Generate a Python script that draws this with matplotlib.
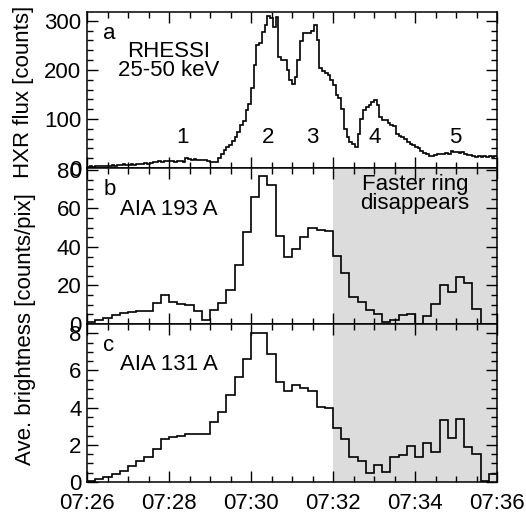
import numpy as np
import matplotlib.pyplot as plt

plt.rcParams['font.family'] = ['Liberation Sans', 'DejaVu Sans']
plt.rcParams['font.size'] = 16

# time axis in minutes after 07:26
hxr_bin = 4 / 60.0
hxr_counts = [3, 4, 3, 5, 4, 4, 5, 4,
              5, 6, 5, 7, 6, 8, 7,
              7, 8, 7, 9, 8, 9, 10, 9,
              11, 12, 13, 14, 13, 15, 14,
              15, 14, 13, 14, 15, 13,
              20, 18, 17, 18, 17, 16, 17, 16,
              14, 13, 12, 12,
              20, 28, 37, 43, 47, 55, 64, 74, 88, 95, 118, 130,
              163, 210, 250, 255, 278, 292, 309, 305, 288, 308,
              227, 220, 220, 200, 180, 172, 186, 220, 258, 275,
              276, 276, 280, 292, 261, 204, 197, 194, 190, 180,
              169, 149, 143, 120, 80, 64, 52, 48, 43, 70,
              100, 118, 125, 128, 135, 139, 128, 104, 98, 97,
              92, 88, 86, 70, 65, 63, 60, 54, 48, 46,
              42, 40, 34, 31, 28, 25, 24, 27, 28, 29,
              28, 30, 29, 35, 33, 32, 30, 32, 29, 26,
              27, 24, 23, 24, 23, 24, 22, 24, 23, 25]

aia_bin = 12 / 60.0
aia193 = [1, 2, 3.3, 4.7, 5.9, 6.4, 6.8, 6.8, 11, 14.9,
          11.6, 10.6, 9.7, 6.8, 1.9, 7.1, 11, 17.7, 30.5, 48,
          66, 77, 72, 45.7, 34.8, 38.8, 45.2, 49.7, 48.8, 48.3,
          35.3, 26.3, 14, 11.6, 7.3, 5, 1.2, 2.1, 4.7, 5.4,
          0, 4, 10.6, 20.1, 16.8, 24.6, 21.1, 7.6, 0.2, 0]
aia131 = [0.05, 0.15, 0.29, 0.41, 0.61, 0.88, 1.12, 1.32, 1.77, 2.34,
          2.41, 2.47, 2.58, 2.59, 2.56, 3.23, 3.77, 4.67, 5.64, 6.63,
          8.0, 8.0, 6.88, 5.37, 4.88, 5.24, 5.06, 4.88, 4.03, 3.98,
          2.9, 2.3, 1.37, 1.14, 0.47, 0.92, 0.56, 1.37, 1.46, 1.91,
          1.37, 2.12, 1.64, 3.35, 2.36, 3.39, 1.88, 1.51, 0.05, 0.43]

xticks = [0, 2, 4, 6, 8, 10]
xticklabels = ['07:26', '07:28', '07:30', '07:32', '07:34', '07:36']
peak_names = ['1', '2', '3', '4', '5']
peak_times = [2.34, 4.41, 5.49, 7.02, 8.98]
shade = [6, 10]

W, H = 526, 514
fig = plt.figure(figsize=(W / 100, H / 100), dpi=100)

def box(top, bottom):
    return [87 / W, 1 - bottom / H, (497 - 87) / W, (bottom - top) / H]

ax_a = fig.add_axes(box(12, 168))
ax_b = fig.add_axes(box(168, 324))
ax_c = fig.add_axes(box(324, 482))

hxr_edges = np.arange(len(hxr_counts) + 1) * hxr_bin
aia_edges = np.arange(len(aia193) + 1) * aia_bin

ax_a.stairs(hxr_counts, hxr_edges, color='black', lw=1.2, baseline=None)
ax_b.stairs(aia193, aia_edges, color='black', lw=1.2, baseline=None, zorder=3)
ax_c.stairs(aia131, aia_edges, color='black', lw=1.2, baseline=None, zorder=3)

for ax in (ax_b, ax_c):
    ax.axvspan(shade[0], shade[1], color='#dcdcdc', lw=0, zorder=1)

ax_a.set_ylim(0, 318)
ax_b.set_ylim(0, 81)
ax_c.set_ylim(0, 8.5)
ax_a.set_yticks([0, 100, 200, 300])
ax_a.set_yticks(np.arange(0, 320, 20), minor=True)
ax_b.set_yticks([0, 20, 40, 60, 80])
ax_b.set_yticks(np.arange(0, 81, 5), minor=True)
ax_c.set_yticks([0, 2, 4, 6, 8])
ax_c.set_yticks(np.arange(0, 8.5, 0.5), minor=True)

for ax in (ax_a, ax_b, ax_c):
    ax.set_xlim(0, 10)
    ax.set_xticks(xticks)
    ax.set_xticks(np.arange(0, 10.01, 0.5), minor=True)
    ax.tick_params(which='both', direction='in', top=True, right=True,
                   width=1, labelsize=16, pad=4)
    ax.tick_params(which='major', length=8)
    ax.tick_params(which='minor', length=4)
    for s in ax.spines.values():
        s.set_linewidth(1.1)
    if ax is ax_c:
        ax.set_xticklabels(xticklabels)
        ax.tick_params(axis='x', pad=8)
    else:
        ax.set_xticklabels([])

ax_a.text(0.04, 0.93, 'a', transform=ax_a.transAxes, va='top')
ax_a.text(2.0, 218, 'RHESSI\n25-50 keV', ha='center', va='center',
          linespacing=0.85)
for name, t in zip(peak_names, peak_times):
    ax_a.text(t, 63, name, ha='center', va='center')

ax_b.text(0.04, 0.93, 'b', transform=ax_b.transAxes, va='top')
ax_b.text(0.8, 59.7, 'AIA 193 A', va='center')
ax_b.text(8.0, 67.5, 'Faster ring\ndisappears', ha='center', va='center',
          linespacing=0.9, zorder=4)

ax_c.text(0.04, 0.93, 'c', transform=ax_c.transAxes, va='top')
ax_c.text(0.8, 6.3, 'AIA 131 A', va='center')

fig.text(24 / W, 1 - 92 / H, 'HXR flux [counts]', rotation=90,
         ha='center', va='center')
fig.text(26 / W, 1 - 329 / H, 'Ave. brightness [counts/pix]', rotation=90,
         ha='center', va='center')

fig.savefig('out.png', dpi=100)
